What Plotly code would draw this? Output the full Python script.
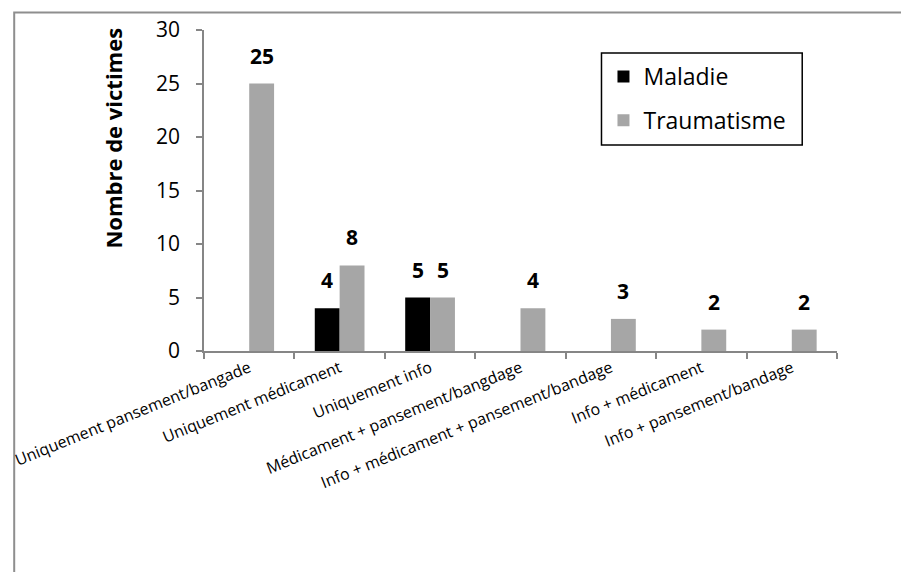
import plotly.graph_objects as go

categories = [
    "Uniquement pansement/bangade",
    "Uniquement médicament",
    "Uniquement info",
    "Médicament + pansement/bangdage",
    "Info + médicament + pansement/bandage",
    "Info + médicament",
    "Info + pansement/bandage",
]
maladie = [None, 4, 5, None, None, None, None]
traumatisme = [25, 8, 5, 4, 3, 2, 2]
y_ticks = [0, 5, 10, 15, 20, 25, 30]

FONT = "Open Sans"
AXIS_COLOR = "#868686"

W, H = 901, 572
L, T, R, B = 200, 30, 64, 221
PW, PH = W - L - R, H - T - B


def px_x(x):
    return (x - L) / PW


def px_y(y):
    return (H - B - y) / PH


fig = go.Figure()
fig.add_trace(go.Bar(x=categories, y=maladie, name="Maladie",
                     marker=dict(color="#000000", line=dict(width=0)),
                     legendgroup="m"))
fig.add_trace(go.Bar(x=categories, y=traumatisme, name="Traumatisme",
                     marker=dict(color="#a6a6a6", line=dict(width=0)),
                     legendgroup="t"))

annotations = []
for series, shift in ((maladie, -12.5), (traumatisme, 12.5)):
    for c, v in zip(categories, series):
        if v:
            annotations.append(dict(x=c, y=v, xref="x", yref="y", text=f"<b>{v}</b>",
                                    showarrow=False, xshift=shift, yshift=28,
                                    yanchor="middle",
                                    font=dict(family=FONT, size=21, color="#000000")))

annotations.append(dict(x=px_x(108), y=px_y(138), xref="paper", yref="paper",
                        text="<b>Nombre de victimes</b>", textangle=-90,
                        showarrow=False, xanchor="center", yanchor="middle",
                        font=dict(family=FONT, size=22, color="#000000")))

shapes = [
    dict(type="rect", xref="paper", yref="paper", x0=px_x(9), x1=px_x(1100),
         y0=px_y(800), y1=px_y(12.5),
         line=dict(color="#8e8e8e", width=2), fillcolor="rgba(0,0,0,0)", layer="below"),
    dict(type="rect", xref="paper", yref="paper",
         x0=px_x(600), x1=px_x(802), y0=px_y(145), y1=px_y(53),
         line=dict(color="#000000", width=1.5), fillcolor="rgba(0,0,0,0)"),
]

fig.update_layout(
    width=W, height=H,
    margin=dict(l=L, r=R, t=T, b=B, pad=0),
    paper_bgcolor="white", plot_bgcolor="white",
    barmode="group", bargap=0.45, bargroupgap=0,
    font=dict(family=FONT, color="#000000"),
    showlegend=True,
    legend=dict(x=px_x(602), y=px_y(55), xanchor="left", yanchor="top",
                font=dict(family=FONT, size=23, color="#000000"),
                traceorder="grouped", tracegroupgap=11,
                bgcolor="rgba(0,0,0,0)", borderwidth=0),
    annotations=annotations,
    shapes=shapes,
)
fig.update_xaxes(
    type="category", showline=True, linecolor=AXIS_COLOR, linewidth=1.5,
    ticks="outside", tickson="boundaries", ticklen=6, tickcolor=AXIS_COLOR, tickwidth=1.5,
    tickangle=-22, tickfont=dict(family=FONT, size=16, color="#000000"),
    showgrid=False, zeroline=False,
)
fig.update_yaxes(
    range=[0, 30], tickvals=y_ticks, ticktext=[str(t) for t in y_ticks],
    showline=True, linecolor=AXIS_COLOR, linewidth=1.5,
    ticks="outside", ticklen=6, tickcolor=AXIS_COLOR, tickwidth=1.5,
    ticklabelstandoff=12,
    tickfont=dict(family=FONT, size=21, color="#000000"),
    showgrid=False, zeroline=False,
)

fig.write_html("out.html", config={"displayModeBar": False},
               post_script="document.body.style.margin='0';document.body.style.padding='0';")
